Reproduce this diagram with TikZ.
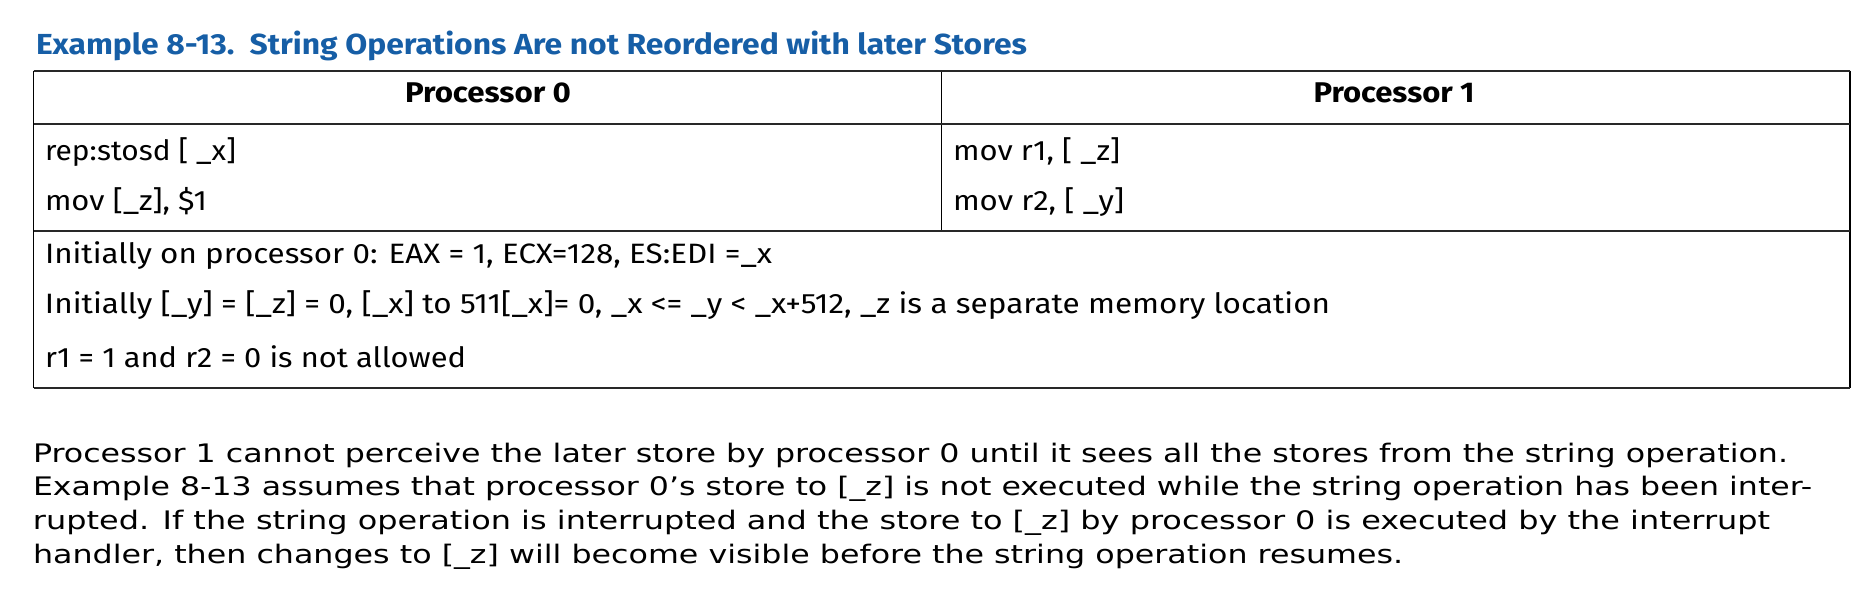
\documentclass[tikz,border=0pt]{standalone}
\usepackage{fontspec}
\usepackage{graphicx}
\setmainfont{Fira Sans}
\newfontfamily\parafont{DejaVu Sans}
\definecolor{inteltitle}{RGB}{22,94,166}
\definecolor{rulegray}{RGB}{40,40,40}
\newcommand{\fitw}[2]{\resizebox{#1pt}{\height}{#2}}
\tikzset{
  txt/.style={anchor=base west, inner sep=0pt, outer sep=0pt},
  ctxt/.style={anchor=base, inner sep=0pt, outer sep=0pt},
  titletxt/.style={txt, text=inteltitle, font=\fontsize{29}{32}\selectfont\bfseries},
  headtxt/.style={ctxt, font=\fontsize{28.5}{32}\selectfont\bfseries},
  bodytxt/.style={txt, font=\fontsize{28}{32}\selectfont},
  paratxt/.style={txt, font=\parafont\fontsize{25.5}{30}\selectfont},
  hrule/.style={draw=rulegray, line width=2pt},
  vrule/.style={draw=black, line width=1.5pt},
}
\begin{document}
\begin{tikzpicture}[x=1pt,y=-1pt]
\useasboundingbox (0,0) rectangle (1874,605);
% title
\node[titletxt] (title) at (36,54.5) {\fitw{991}{Example 8-13.\ \ String Operations Are not Reordered with later Stores}};
% table rules
\coordinate (tl) at (33.5,70.5);
\coordinate (tr) at (1850,70.5);
\coordinate (hl) at (33.5,123.5);
\coordinate (hr) at (1850,123.5);
\coordinate (rl) at (33.5,231);
\coordinate (rr) at (1850,231);
\coordinate (bl) at (33.5,387.5);
\coordinate (br) at (1850,387.5);
\coordinate (mt) at (941.5,70.5);
\coordinate (mb) at (941.5,231);
\draw[vrule] (tl) -- (bl);
\draw[vrule] (tr) -- (br);
\draw[vrule] (mt) -- (mb);
\draw[hrule] (tl) -- (tr);
\draw[hrule] (hl) -- (hr);
\draw[hrule] (rl) -- (rr);
\draw[hrule] (bl) -- (br);
% header
\node[headtxt] (h0) at (488,102) {\fitw{166}{Processor 0}};
\node[headtxt] (h1) at (1394,102) {\fitw{161}{Processor 1}};
% code rows
\node[bodytxt] (p0a) at (45,160) {\fitw{191}{rep:stosd [ \_x]}};
\node[bodytxt] (p0b) at (45,210) {\fitw{162}{mov [\_z], \$1}};
\node[bodytxt] (p1a) at (953,160) {\fitw{167}{mov r1, [ \_z]}};
\node[bodytxt] (p1b) at (953,210) {\fitw{171}{mov r2, [ \_y]}};
% notes
\node[bodytxt] (n1) at (45,263) {\fitw{727}{Initially on processor 0: EAX = 1, ECX=128, ES:EDI =\_x}};
\node[bodytxt] (n2) at (45,313) {\fitw{1285}{Initially [\_y] = [\_z] = 0, [\_x] to 511[\_x]= 0, \_x <= \_y < \_x+512, \_z is a separate memory location}};
\node[bodytxt] (n3) at (45,367) {\fitw{421}{r1 = 1 and r2 = 0 is not allowed}};
% paragraph
\node[paratxt] (l1) at (33,462) {\fitw{1755}{Processor 1 cannot perceive the later store by processor 0 until it sees all the stores from the string operation.}};
\node[paratxt] (l2) at (33,495.5) {\fitw{1779}{Example 8-13 assumes that processor 0’s store to [\_z] is not executed while the string operation has been inter-}};
\node[paratxt] (l3) at (33,529) {\fitw{1737}{rupted. If the string operation is interrupted and the store to [\_z] by processor 0 is executed by the interrupt}};
\node[paratxt] (l4) at (33,563) {\fitw{1370}{handler, then changes to [\_z] will become visible before the string operation resumes.}};
\end{tikzpicture}
\end{document}
